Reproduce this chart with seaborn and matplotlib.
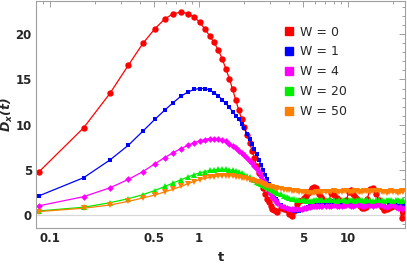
import matplotlib
matplotlib.use('Agg')
import matplotlib.pyplot as plt
import seaborn as sns
from matplotlib.lines import Line2D
from matplotlib.ticker import FixedLocator, NullFormatter, MultipleLocator

# sampling times (dense at early times, thinned in the noisy tail)
t = [0.084, 0.168, 0.252, 0.336, 0.42, 0.504, 0.588, 0.672, 0.756, 0.84,
     0.924, 1.008, 1.092, 1.176, 1.26, 1.344, 1.428, 1.512, 1.596, 1.68,
     1.764, 1.848, 1.932, 2.016, 2.1, 2.184, 2.268, 2.352, 2.436, 2.52,
     2.604, 2.688, 2.772, 2.856, 2.94, 3.024, 3.108, 3.192, 3.276, 3.36,
     3.528, 3.696, 3.864, 4.032, 4.2, 4.368, 4.536, 4.704, 4.872, 5.04,
     5.208, 5.376, 5.544, 5.712, 5.88, 6.048, 6.216, 6.384, 6.552, 6.72,
     7.056, 7.392, 7.728, 8.064, 8.4, 8.736, 9.072, 9.408, 9.744, 10.08,
     10.416, 10.752, 11.088, 11.424, 11.76, 12.096, 12.432, 12.768, 13.104, 13.44,
     14.112, 14.784, 15.456, 16.128, 16.8, 17.472, 18.144, 18.816, 19.488, 20.16,
     20.832, 21.504, 22.176, 22.848, 23.52]

d_w0 = [4.75, 9.65, 13.45, 16.6, 19.0, 20.6, 21.7, 22.3, 22.45, 22.3,
        21.95, 21.35, 20.6, 19.85, 19.1, 18.3, 17.3, 16.2, 15.1, 13.9,
        12.7, 11.6, 10.6, 9.7, 8.85, 8.0, 7.1, 6.3, 5.4, 4.6,
        3.75, 3.0, 2.35, 1.8, 1.4, 0.95, 0.7, 0.55, 0.4, 0.35,
        0.8, 0.7, 0.5, 0.05, -0.1, 0.4, 1.2, 1.5, 1.7, 1.9,
        2.1, 2.4, 2.7, 2.95, 3.1, 3.0, 2.7, 2.3, 2.0, 1.8,
        1.5, 1.5, 2.4, 2.2, 1.9, 1.6, 1.3, 1.1, 1.6, 2.5,
        2.8, 2.3, 2.0, 1.8, 1.4, 1.0, 0.8, 0.8, 0.9, 1.8,
        2.9, 3.0, 2.3, 1.6, 0.9, 0.55, 0.6, 0.8, 0.9, 1.0,
        1.3, 1.4, 0.9, -0.3, 0.3]

d_w1 = [2.1, 4.12, 6.08, 7.73, 9.28, 10.57, 11.6, 12.45, 13.15, 13.6,
        13.9, 14.0, 14.0, 13.85, 13.55, 13.2, 12.75, 12.35, 11.9, 11.45,
        11.0, 10.6, 10.1, 9.6, 8.95, 8.4, 7.8, 7.3, 6.7, 6.1,
        5.55, 5.0, 4.45, 3.95, 3.45, 3.0, 2.55, 2.15, 1.8, 1.5,
        1.1, 0.85, 0.7, 0.6, 0.5, 0.45, 0.45, 0.45, 0.5, 0.6,
        0.7, 0.85, 1.0, 1.1, 1.25, 1.35, 1.4, 1.45, 1.45, 1.4,
        1.35, 1.45, 1.5, 1.4, 1.25, 1.2, 1.35, 1.5, 1.45, 1.3,
        1.2, 1.3, 1.45, 1.4, 1.25, 1.15, 1.0, 1.05, 1.2, 1.4,
        1.3, 1.1, 1.3, 1.5, 1.35, 1.1, 0.9, 1.1, 1.3, 1.2,
        1.0, 1.2, 1.0, 0.8, 1.1]

d_w4 = [1.0, 2.02, 3.0, 3.94, 4.8, 5.65, 6.35, 6.9, 7.35, 7.7,
        8.0, 8.2, 8.35, 8.45, 8.45, 8.4, 8.3, 8.15, 7.85, 7.6,
        7.4, 7.1, 6.85, 6.6, 6.3, 6.0, 5.7, 5.4, 5.1, 4.7,
        4.3, 3.9, 3.5, 3.1, 2.7, 2.35, 2.0, 1.75, 1.5, 1.3,
        1.0, 0.85, 0.75, 0.7, 0.65, 0.65, 0.65, 0.65, 0.7, 0.75,
        0.8, 0.85, 0.9, 0.95, 1.0, 1.0, 1.0, 1.0, 1.0, 1.0,
        0.95, 0.95, 1.0, 1.05, 1.0, 0.95, 1.0, 1.1, 1.15, 1.1,
        1.0, 1.0, 1.1, 1.2, 1.15, 1.05, 0.95, 1.0, 1.1, 1.15,
        1.1, 1.0, 1.05, 1.15, 1.1, 0.95, 0.85, 1.0, 1.1, 1.05,
        0.9, 0.8, 0.9, 0.7, 0.8]

d_w20 = [0.44, 0.85, 1.35, 1.8, 2.25, 2.7, 3.15, 3.55, 3.9, 4.2,
         4.45, 4.65, 4.8, 4.92, 5.0, 5.05, 5.05, 5.05, 5.0, 4.95,
         4.85, 4.75, 4.6, 4.45, 4.3, 4.15, 4.0, 3.85, 3.7, 3.55,
         3.4, 3.3, 3.15, 3.05, 2.95, 2.85, 2.75, 2.65, 2.55, 2.45,
         2.3, 2.15, 2.0, 1.9, 1.8, 1.75, 1.7, 1.65, 1.6, 1.6,
         1.55, 1.55, 1.55, 1.55, 1.6, 1.6, 1.6, 1.6, 1.6, 1.6,
         1.6, 1.65, 1.6, 1.6, 1.55, 1.6, 1.65, 1.6, 1.55, 1.6,
         1.65, 1.6, 1.55, 1.6, 1.65, 1.6, 1.6, 1.55, 1.6, 1.65,
         1.6, 1.55, 1.6, 1.65, 1.6, 1.55, 1.6, 1.65, 1.6, 1.55,
         1.6, 1.65, 1.55, 1.5, 1.6]

d_w50 = [0.37, 0.74, 1.1, 1.5, 1.88, 2.2, 2.55, 2.85, 3.15, 3.45,
         3.7, 3.9, 4.05, 4.15, 4.25, 4.3, 4.35, 4.35, 4.35, 4.3,
         4.25, 4.2, 4.1, 4.05, 4.0, 3.9, 3.85, 3.75, 3.7, 3.6,
         3.5, 3.4, 3.3, 3.2, 3.15, 3.1, 3.05, 3.0, 2.95, 2.9,
         2.85, 2.8, 2.78, 2.75, 2.7, 2.65, 2.6, 2.55, 2.55, 2.5,
         2.5, 2.45, 2.45, 2.45, 2.45, 2.5, 2.5, 2.5, 2.5, 2.5,
         2.5, 2.55, 2.55, 2.6, 2.55, 2.5, 2.55, 2.6, 2.6, 2.55,
         2.5, 2.55, 2.6, 2.6, 2.55, 2.5, 2.55, 2.6, 2.65, 2.6,
         2.55, 2.6, 2.65, 2.6, 2.55, 2.5, 2.45, 2.5, 2.6, 2.55,
         2.5, 2.45, 2.5, 2.6, 2.55]

labels = ['W = 0', 'W = 1', 'W = 4', 'W = 20', 'W = 50']
colors = ['#ff0000', '#0000ff', '#ff00ff', '#00ee00', '#ff7f00']
markers = ['o', 's', 'D', '^', 'v']
msizes = [4.6, 3.4, 3.4, 4.2, 4.2]

sns.set_style('white')
plt.rcParams['font.family'] = ['DejaVu Sans']
plt.rcParams['mathtext.fontset'] = 'dejavusans'

fig = plt.figure(figsize=(4.07, 2.65), dpi=100)
ax = fig.add_axes([36 / 407, 37 / 265, 369 / 407, 227.5 / 265])

ax.axhline(0, color='#d8d8d8', lw=0.9, zorder=0)

for vals, lab, c, m, ms in zip([d_w0, d_w1, d_w4, d_w20, d_w50], labels, colors, markers, msizes):
    sns.lineplot(x=t, y=vals, ax=ax, color=c, marker=m, markersize=ms,
                 markeredgewidth=0, linewidth=0.9, legend=False,
                 sort=False, estimator=None)

ax.set_xscale('log')
ax.set_xlim(0.0805, 24.1)
ax.set_ylim(-1.45, 23.75)

ax.xaxis.set_major_locator(FixedLocator([0.1, 0.5, 1, 5, 10]))
ax.set_xticklabels(['0.1', '0.5', '1', '5', '10'])
ax.xaxis.set_minor_locator(FixedLocator([0.09, 0.2, 0.3, 0.4, 0.6, 0.7, 0.8, 0.9,
                                         2, 3, 4, 6, 7, 8, 9, 20]))
ax.xaxis.set_minor_formatter(NullFormatter())
ax.set_yticks([0, 5, 10, 15, 20])
ax.yaxis.set_minor_locator(MultipleLocator(1))

ax.tick_params(which='both', direction='in', top=True, right=True,
               color='#a0a0a0', width=0.7, labelsize=8.5, pad=3)
ax.tick_params(which='major', length=4.5)
ax.tick_params(which='minor', length=2.5)
for lbl in ax.get_xticklabels() + ax.get_yticklabels():
    lbl.set_fontweight('bold')
for sp in ax.spines.values():
    sp.set_color('#a0a0a0')
    sp.set_linewidth(0.8)

ax.set_xlabel('t', fontweight='bold', fontsize=9.5, labelpad=4)
ax.set_ylabel(r'$\mathbfit{D}_{\mathbfit{x}}\mathbfit{(t)}$', fontsize=9, labelpad=0.5)

handles = [Line2D([], [], ls='', marker='s', color=c, markersize=5.5) for c in colors]
ax.legend(handles, labels, loc='upper left', bbox_to_anchor=(0.672, 0.89),
          frameon=False, fontsize=9, handlelength=0.8, handletextpad=0.45,
          labelspacing=0.55, borderpad=0, borderaxespad=0)

fig.savefig('out.png', dpi=100)
